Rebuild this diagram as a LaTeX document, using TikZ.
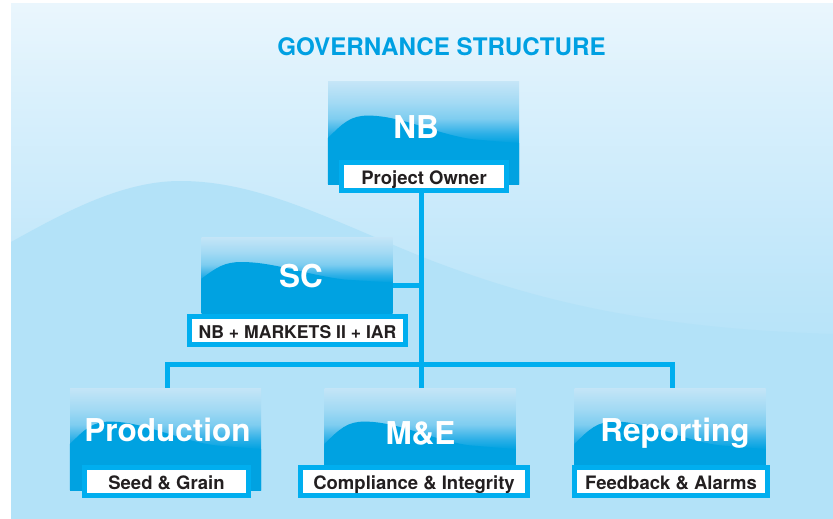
\documentclass[tikz,border=0pt]{standalone}
\usepackage{fontspec}
\setmainfont{TeX Gyre Heros}
\usetikzlibrary{calc}
\definecolor{bgtop}{HTML}{EAF6FD}
\definecolor{bgm1}{HTML}{D9F0FC}
\definecolor{bgm2}{HTML}{CCEBFB}
\definecolor{bgm3}{HTML}{BCE5F9}
\definecolor{bgbot}{HTML}{B3E2F8}
\definecolor{wavebg}{HTML}{B3E2F8}
\definecolor{linec}{HTML}{00AEEF}
\definecolor{titlec}{HTML}{00A0E2}
\definecolor{boxtop}{HTML}{C4E5F7}
\definecolor{boxm3}{HTML}{A3DAF4}
\definecolor{boxm2}{HTML}{7ECDF0}
\definecolor{boxm1}{HTML}{2EB0E7}
\definecolor{boxlow}{HTML}{00A2E1}
\definecolor{textc}{HTML}{231F20}
\pgfdeclareverticalshading{govbgshade}{100bp}{color(0bp)=(bgbot); color(25bp)=(bgbot); color(38.5bp)=(bgbot); color(46.3bp)=(bgm3); color(56.9bp)=(bgm2); color(65.7bp)=(bgm1); color(75bp)=(bgtop); color(100bp)=(bgtop)}
\pgfdeclareverticalshading{govboxshade}{100bp}{color(0bp)=(boxlow); color(25bp)=(boxlow); color(45bp)=(boxlow); color(50bp)=(boxm1); color(57bp)=(boxm2); color(65bp)=(boxm3); color(75bp)=(boxtop); color(100bp)=(boxtop)}
\tikzset{
  govbox/.style={rectangle, inner sep=0pt, minimum width=191pt, shading=govboxshade},
  govlabel/.style={rectangle, fill=white, draw=linec, line width=5pt, inner sep=0pt,
    minimum height=28pt, text height=15pt, text depth=0pt,
    font=\bfseries\fontsize{18.5}{18.5}\selectfont, text=textc},
  govtitle/.style={anchor=base, text=white, inner sep=0pt, font=\bfseries\fontsize{31.5}{32}\selectfont},
  conn/.style={draw=linec, line width=5pt},
}
\newcommand\govwave[1]{%
  \begin{scope}
    \clip (#1.south west) rectangle (#1.north east);
    \fill[boxlow] let \p1=(#1.north west), \p2=(#1.south east), \n1={\x2-\x1}, \n2={\y1-\y2} in
      (\x1,{\y1-0.55*\n2}) .. controls ({\x1+0.08*\n1},{\y1-0.40*\n2}) and ({\x1+0.12*\n1},{\y1-0.33*\n2}) ..
      ({\x1+0.21*\n1},{\y1-0.33*\n2}) .. controls ({\x1+0.38*\n1},{\y1-0.33*\n2}) and ({\x1+0.55*\n1},{\y1-0.50*\n2}) ..
      ({\x1+0.75*\n1},{\y1-0.56*\n2}) -- (\x2,{\y1-0.60*\n2}) -- (\x2,\y2) -- (\x1,\y2) -- cycle;
  \end{scope}}
\begin{document}
\begin{tikzpicture}[x=1pt,y=-1pt]
  \useasboundingbox (0,0) rectangle (833,519);
  % background panel
  \fill[shading=govbgshade] (11,4) rectangle (833,519);
  \fill[wavebg] (11,242) .. controls (60,215) and (120,181) .. (180,181)
    .. controls (260,181) and (330,220) .. (430,260)
    .. controls (530,298) and (640,328) .. (833,334) -- (833,519) -- (11,519) -- cycle;
  % title
  \node[anchor=base, inner sep=0pt, text=titlec, font=\bfseries\fontsize{24.2}{25}\selectfont] (title) at (441.5,56) {GOVERNANCE STRUCTURE};
  % connector coordinates
  \coordinate (busL) at (167,364);
  \coordinate (busC) at (421,364);
  \coordinate (busR) at (672,364);
  % boxes
  \node[govbox, minimum height=102pt] (nb) at (423.5,133) {};
  \node[govbox, minimum height=76pt] (sc) at (297,275) {};
  \node[govbox, minimum height=102pt] (prod) at (165.5,439) {};
  \node[govbox, minimum height=102pt] (me) at (420,439) {};
  \node[govbox, minimum height=102pt] (rep) at (670,439) {};
  \govwave{nb}\govwave{sc}\govwave{prod}\govwave{me}\govwave{rep}
  % labels
  \node[govlabel, minimum width=165pt] (nbl) at (424,176.5) {Project Owner};
  \node[govlabel, minimum width=216pt, font=\bfseries\fontsize{17.6}{18}\selectfont] (scl) at (297.5,330.5) {NB + MARKETS II + IAR};
  \node[govlabel, minimum width=164pt] (prodl) at (166.5,481.5) {Seed \& Grain};
  \node[govlabel, minimum width=227pt] (mel) at (414,481.5) {Compliance \& Integrity};
  \node[govlabel, minimum width=193pt] (repl) at (671,481.5) {Feedback \& Alarms};
  % connectors
  \coordinate (scb) at ([yshift=-10.5pt]sc.east);
  \draw[conn] (nbl.south -| busC) -- (me.north -| busC);
  \draw[conn] (scb) -- (scb -| busC);
  \draw[conn] (prod.north -| busL) -- (busL) -- (busR) -- (rep.north -| busR);
  % titles
  \node[govtitle] (nbt) at (416,138) {NB};
  \node[govtitle] (sct) at (301,287) {SC};
  \node[govtitle] (prodt) at (167.5,441) {Production};
  \node[govtitle] (met) at (420.5,444) {M\&E};
  \node[govtitle] (rept) at (675,441) {Reporting};
\end{tikzpicture}
\end{document}
